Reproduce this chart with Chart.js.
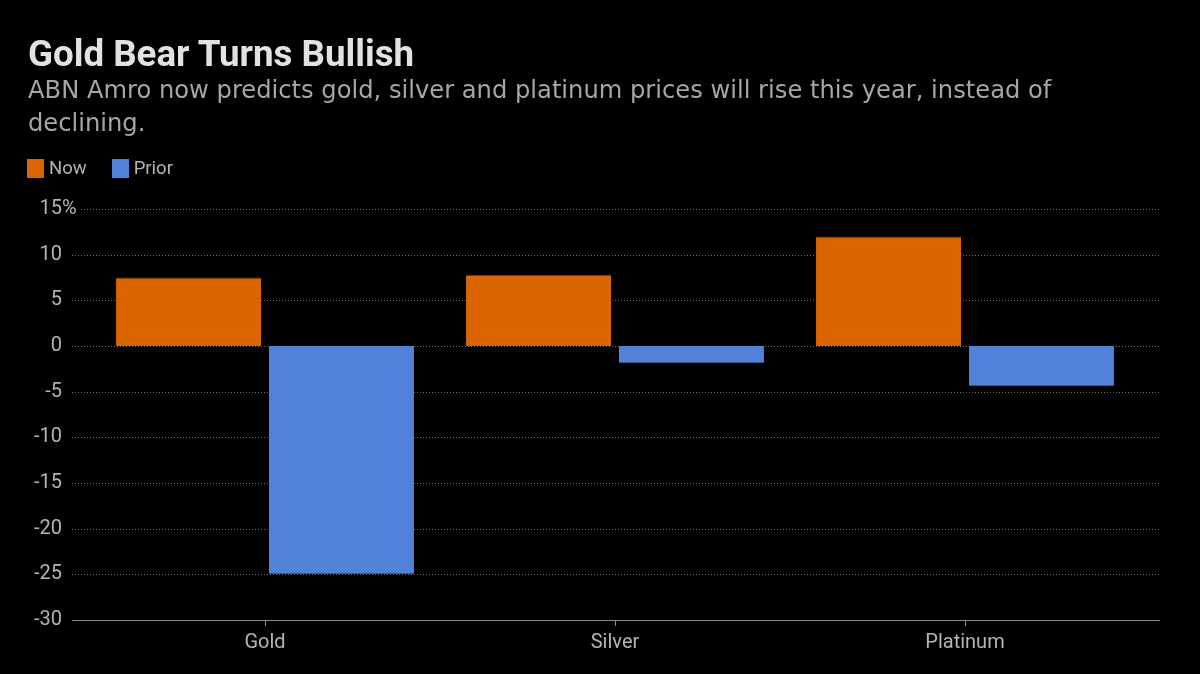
<!DOCTYPE html>
<html>
<head>
<meta charset="utf-8">
<script src="https://cdn.jsdelivr.net/npm/chart.js@4.4.1/dist/chart.umd.min.js"></script>
<style>
  html, body { margin: 0; padding: 0; background: #000; }
  #wrap { position: relative; width: 1200px; height: 674px; overflow: hidden; font-family: Roboto, "DejaVu Sans", sans-serif; }
  #chart { position: absolute; left: 0; top: 0; }
  #title { position: absolute; left: 28px; top: 36px; font-size: 36.7px; font-weight: bold; line-height: 1; color: #e2e2e2; white-space: nowrap; }
  #subtitle { position: absolute; left: 28px; top: 74px; width: 1100px; font-family: "DejaVu Sans", sans-serif; font-size: 24.2px; line-height: 33px; color: #a6a6a6; }
  #legend { position: absolute; left: 27px; top: 157px; display: flex; align-items: center; font-size: 18.5px; color: #b4b4b4; }
  .item { display: flex; align-items: center; margin-right: 25px; }
  .swatch { width: 17px; height: 19px; margin-right: 5px; }
</style>
</head>
<body>
<div id="wrap">
  <canvas id="chart" width="1200" height="674"></canvas>
  <div id="title">Gold Bear Turns Bullish</div>
  <div id="subtitle">ABN Amro now predicts gold, silver and platinum prices will rise this year, instead of declining.</div>
  <div id="legend"></div>
</div>
<script>
// ---------- Data ----------
const categories = ['Gold', 'Silver', 'Platinum'];
const nowValues = [7.5, 7.8, 12];
const priorValues = [-25, -1.9, -4.4];
const seriesNames = ['Now', 'Prior'];
const seriesColors = ['#d96400', '#5281d9'];
const edgeColors = ['#6e3a08', '#34608e'];
const yMin = -30, yMax = 15, yStep = 5;

// ---------- Legend (html) ----------
const legendEl = document.getElementById('legend');
seriesNames.forEach((name, i) => {
  const item = document.createElement('div'); item.className = 'item';
  const sw = document.createElement('span'); sw.className = 'swatch'; sw.style.background = seriesColors[i];
  const txt = document.createElement('span'); txt.textContent = name;
  item.appendChild(sw); item.appendChild(txt); legendEl.appendChild(item);
});

// dotted guide lines running a bit past the plot, solid base line, and the % on top tick
const guides = {
  id: 'guides',
  beforeDatasetsDraw(chart) {
    const { ctx, chartArea, scales: { y } } = chart;
    ctx.save();
    ctx.lineWidth = 1;
    for (const t of y.ticks) {
      const py = Math.round(y.getPixelForValue(t.value)) + 0.5;
      ctx.beginPath();
      if (t.value === yMin) { ctx.setLineDash([]); ctx.strokeStyle = '#8c8c8c'; }
      else { ctx.setLineDash([1, 2]); ctx.strokeStyle = '#707070'; }
      ctx.moveTo(t.value === yMax ? chartArea.left - 9 : chartArea.left - 18, py);
      ctx.lineTo(chartArea.right + 20, py);
      ctx.stroke();
    }
    ctx.restore();
  },
  afterDraw(chart) {
    const { ctx, scales: { y } } = chart;
    ctx.save();
    ctx.font = '20px Roboto, "DejaVu Sans", sans-serif';
    ctx.fillStyle = '#b4b4b4';
    ctx.textAlign = 'left';
    ctx.textBaseline = 'middle';
    ctx.fillText('%', y.right - y.options.grid.tickLength - y.options.ticks.padding, y.getPixelForValue(yMax));
    ctx.restore();
  }
};

Chart.defaults.font.family = 'Roboto, "DejaVu Sans", sans-serif';
Chart.defaults.font.size = 20;
Chart.defaults.color = '#b4b4b4';

const edge = (c) => c.raw >= 0
  ? { top: 1, right: 0, bottom: 0, left: 0 }
  : { top: 0, right: 0, bottom: 1, left: 0 };

new Chart(document.getElementById('chart'), {
  type: 'bar',
  data: {
    labels: categories,
    datasets: [nowValues, priorValues].map((vals, i) => ({
      label: seriesNames[i],
      data: vals,
      backgroundColor: seriesColors[i],
      borderColor: edgeColors[i],
      borderWidth: edge,
      borderSkipped: false,
      categoryPercentage: 0.874,
      barPercentage: 0.948,
    }))
  },
  options: {
    responsive: false,
    animation: false,
    layout: { padding: { top: 209, right: 60, left: 0, bottom: 0 } },
    plugins: { legend: { display: false }, tooltip: { enabled: false } },
    scales: {
      x: {
        grid: { display: true, drawOnChartArea: false, drawTicks: true, tickLength: 6, offset: false, tickColor: '#8c8c8c' },
        border: { display: false },
        ticks: { padding: 5, color: '#b4b4b4' },
        afterFit: (s) => { s.height = 54; }
      },
      y: {
        min: yMin, max: yMax,
        grid: { display: false, tickLength: 8 },
        border: { display: false },
        ticks: { stepSize: yStep, padding: 20, color: '#b4b4b4', callback: (v) => String(v) },
        afterFit: (s) => { s.width = 90; }
      }
    }
  },
  plugins: [guides]
});
</script>
</body>
</html>
